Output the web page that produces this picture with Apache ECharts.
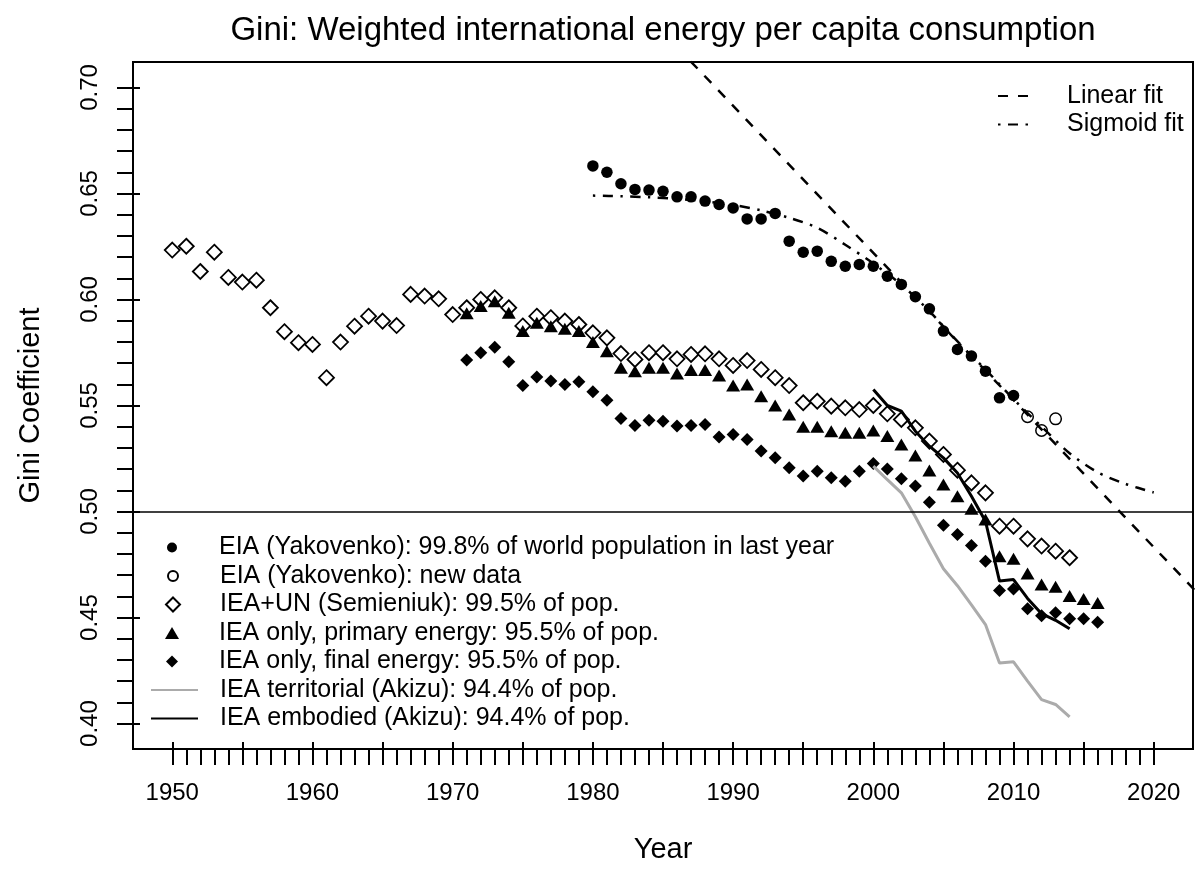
<!DOCTYPE html>
<html><head><meta charset="utf-8">
<script src="https://cdn.jsdelivr.net/npm/echarts@6/dist/echarts.min.js"></script>
<style>html,body{margin:0;padding:0;background:#fff}#c{width:1195px;height:870px}</style>
</head><body><div id="c"></div>
<script>
// ---------- data ----------
const eiaYears = [1980,1981,1982,1983,1984,1985,1986,1987,1988,1989,1990,1991,1992,1993,1994,1995,1996,1997,1998,1999,2000,2001,2002,2003,2004,2005,2006,2007,2008,2009,2010];
const eiaGini  = [0.663,0.660,0.6546,0.6519,0.6516,0.6510,0.6484,0.6484,0.6464,0.6448,0.6432,0.6380,0.6380,0.6406,0.6275,0.6223,0.6228,0.6180,0.6157,0.6165,0.6157,0.6110,0.6071,0.6013,0.5956,0.5851,0.5764,0.5733,0.5662,0.5536,0.5547];

const eiaNewYears = [2011,2012,2013];
const eiaNewGini  = [0.5447,0.5382,0.5437];

const ieaUnYears = [1950,1951,1952,1953,1954,1955,1956,1957,1958,1959,1960,1961,1962,1963,1964,1965,1966,1967,1968,1969,1970,1971,1972,1973,1974,1975,1976,1977,1978,1979,1980,1981,1982,1983,1984,1985,1986,1987,1988,1989,1990,1991,1992,1993,1994,1995,1996,1997,1998,1999,2000,2001,2002,2003,2004,2005,2006,2007,2008,2009,2010,2011,2012,2013,2014];
const ieaUnGini  = [0.6233,0.6251,0.6132,0.6223,0.6104,0.6082,0.6091,0.5961,0.5848,0.5796,0.5788,0.5631,0.5799,0.5874,0.5921,0.5898,0.5877,0.6024,0.6016,0.6003,0.5929,0.5961,0.6000,0.6008,0.5961,0.5875,0.5921,0.5914,0.5898,0.5882,0.5843,0.5819,0.5745,0.5717,0.5749,0.5749,0.5720,0.5741,0.5744,0.5720,0.5689,0.5712,0.5670,0.5631,0.5594,0.5513,0.5520,0.5497,0.5489,0.5481,0.5500,0.5461,0.5434,0.5395,0.5332,0.5269,0.5195,0.5135,0.5088,0.4931,0.4931,0.4871,0.4837,0.4813,0.4782];

const ieaYears = [1971,1972,1973,1974,1975,1976,1977,1978,1979,1980,1981,1982,1983,1984,1985,1986,1987,1988,1989,1990,1991,1992,1993,1994,1995,1996,1997,1998,1999,2000,2001,2002,2003,2004,2005,2006,2007,2008,2009,2010,2011,2012,2013,2014,2015,2016];
const primaryGini = [0.5935,0.5969,0.5992,0.5937,0.5851,0.5890,0.5874,0.5862,0.5851,0.5799,0.5756,0.5678,0.5662,0.5678,0.5678,0.5651,0.5667,0.5667,0.5642,0.5594,0.5599,0.5544,0.5500,0.5458,0.5400,0.5400,0.5379,0.5371,0.5371,0.5382,0.5356,0.5316,0.5264,0.5193,0.5127,0.5072,0.5013,0.4962,0.4789,0.4777,0.4708,0.4656,0.4645,0.4601,0.4588,0.4569];
const finalGini   = [0.5714,0.5749,0.5775,0.5706,0.5594,0.5634,0.5615,0.5599,0.5612,0.5565,0.5525,0.5439,0.5406,0.5431,0.5426,0.5403,0.5406,0.5410,0.5352,0.5363,0.5340,0.5285,0.5253,0.5206,0.5167,0.5190,0.5159,0.5143,0.5190,0.5226,0.5201,0.5154,0.5120,0.5044,0.4935,0.4892,0.4840,0.4766,0.4627,0.4635,0.4541,0.4509,0.4522,0.4494,0.4494,0.4478];

const akizuYears = [2000,2001,2002,2003,2004,2005,2006,2007,2008,2009,2010,2011,2012,2013,2014];
const territorialGini = [0.5214,0.5150,0.5088,0.4975,0.4850,0.4730,0.4650,0.4560,0.4467,0.4286,0.4291,0.4200,0.4113,0.4090,0.4032];
const embodiedGini    = [0.5575,0.5500,0.5473,0.5379,0.5308,0.5253,0.5182,0.5072,0.4954,0.4672,0.4679,0.4590,0.4518,0.4487,0.4447];

const linearFitYears = [1985,2025];
const linearFitGini  = [0.726,0.4485];

const sigmoidYears = [1980,1982,1984,1986,1988,1990,1992,1994,1996,1998,2000,2002,2004,2006,2008,2010,2012,2014,2016,2018,2020];
const sigmoidGini  = [0.6490,0.6487,0.6482,0.6475,0.6463,0.6446,0.6420,0.6385,0.6338,0.6258,0.6170,0.6070,0.5945,0.5800,0.5670,0.5530,0.5400,0.5275,0.5185,0.5130,0.5090];

const refLevel = 0.5;

const xLabelValues = [1950,1960,1970,1980,1990,2000,2010,2020];
const xMajorTicks  = [1950,1955,1960,1965,1970,1975,1980,1985,1990,1995,2000,2005,2010,2015,2020];
const yLabelValues = [0.40,0.45,0.50,0.55,0.60,0.65,0.70];

const names = {
  eia: 'EIA (Yakovenko): 99.8% of world population in last year',
  eiaNew: 'EIA (Yakovenko): new data',
  ieaUn: 'IEA+UN (Semieniuk): 99.5% of pop.',
  primary: 'IEA only, primary energy: 95.5% of pop.',
  final: 'IEA only, final energy: 95.5% of pop.',
  territorial: 'IEA territorial (Akizu): 94.4% of pop.',
  embodied: 'IEA embodied (Akizu): 94.4% of pop.',
  linear: 'Linear fit',
  sigmoid: 'Sigmoid fit'
};

// ---------- helpers ----------
const FONT = "'Liberation Sans', Arial, Helvetica, sans-serif";
const LEG_FS = 25;
const pairs = (xs, ys) => xs.map((x, i) => [x, ys[i]]);
const xMinor = []; for (let y = 1950; y <= 2020; y++) xMinor.push(y);
const yMinor = []; for (let v = 40; v <= 70; v++) yMinor.push(v / 100);

const X_MIN = 1947.2, X_MAX = 2022.8, Y_MIN = 0.388, Y_MAX = 0.712;

// symbol legend: icon centred at x=172, text starting at x=219
function symLegend(name, rowCenter, w, h, icon) {
  const left = 172 - w / 2;
  return {
    data: [icon ? {name: name, icon: icon} : name],
    left: left, top: rowCenter - 12.5, orient: 'vertical', padding: 0,
    itemWidth: w, itemHeight: h, selectedMode: false,
    textStyle: {fontSize: LEG_FS, lineHeight: 25, color: '#000', fontFamily: FONT,
                padding: [0, 0, 0, 219 - (left + w + 5)]}
  };
}
function lineLegend(name, left, rowCenter, w, textX) {
  return {
    data: [name], left: left, top: rowCenter - 12.5, orient: 'vertical', padding: 0,
    itemWidth: w, itemHeight: 14, selectedMode: false,
    itemStyle: {opacity: 0},
    textStyle: {fontSize: LEG_FS, lineHeight: 25, color: '#000', fontFamily: FONT,
                padding: [0, 0, 0, textX - (left + w + 5)]}
  };
}
const rows = [547.5, 576, 604.5, 633, 661.5, 690, 718.5];

const chart = echarts.init(document.getElementById('c'), null, {renderer: 'canvas'});
chart.setOption({
  animation: false,
  backgroundColor: '#fff',
  title: {
    text: 'Gini: Weighted international energy per capita consumption',
    left: 663, top: 14, textAlign: 'center', textVerticalAlign: 'top', padding: 0,
    textStyle: {fontSize: 33, fontWeight: 'normal', color: '#000', fontFamily: FONT}
  },
  grid: {left: 133, right: 2, top: 62, bottom: 121, show: true, borderColor: '#000', borderWidth: 2, backgroundColor: 'transparent'},
  xAxis: [
    {
      type: 'value', min: X_MIN, max: X_MAX, position: 'bottom',
      axisLine: {show: false, onZero: false}, splitLine: {show: false},
      axisTick: {show: true, customValues: xMinor, length: 16, inside: false, lineStyle: {color: '#000', width: 2}},
      axisLabel: {customValues: xLabelValues, fontSize: 24, color: '#000', margin: 32, fontFamily: FONT,
                  formatter: v => String(Math.round(v))},
      name: 'Year', nameLocation: 'middle', nameGap: 86,
      nameTextStyle: {fontSize: 29, color: '#000', fontFamily: FONT}
    },
    {
      type: 'value', min: X_MIN, max: X_MAX, position: 'bottom',
      axisLine: {show: false, onZero: false}, splitLine: {show: false},
      axisTick: {show: true, customValues: xMajorTicks, length: 7, inside: true, lineStyle: {color: '#000', width: 2}},
      axisLabel: {show: false}
    }
  ],
  yAxis: [
    {
      type: 'value', min: Y_MIN, max: Y_MAX, position: 'left',
      axisLine: {show: false, onZero: false}, splitLine: {show: false},
      axisTick: {show: true, customValues: yMinor, length: 16, inside: false, lineStyle: {color: '#000', width: 2}},
      axisLabel: {customValues: yLabelValues, rotate: 90, fontSize: 24, color: '#000', margin: 31, fontFamily: FONT,
                  formatter: v => v.toFixed(2)},
      name: 'Gini Coefficient', nameLocation: 'middle', nameRotate: 90, nameGap: 88,
      nameTextStyle: {fontSize: 29, color: '#000', fontFamily: FONT}
    },
    {
      type: 'value', min: Y_MIN, max: Y_MAX, position: 'left',
      axisLine: {show: false, onZero: false}, splitLine: {show: false},
      axisTick: {show: true, customValues: yLabelValues, length: 7, inside: true, lineStyle: {color: '#000', width: 2}},
      axisLabel: {show: false}
    }
  ],
  legend: [
    symLegend(names.eia, rows[0], 10, 10),
    symLegend(names.eiaNew, rows[1], 10, 10),
    symLegend(names.ieaUn, rows[2], 14, 14),
    symLegend(names.primary, rows[3], 14, 12, 'path://M7,0L14,12L0,12Z'),
    symLegend(names.final, rows[4], 12, 12),
    lineLegend(names.territorial, 150, rows[5], 47, 219),
    lineLegend(names.embodied, 150, rows[6], 47, 219),
    lineLegend(names.linear, 997, 96, 36, 1066),
    lineLegend(names.sigmoid, 997, 124.6, 36, 1066)
  ],
  series: [
    {
      name: names.ieaUn, type: 'scatter', data: pairs(ieaUnYears, ieaUnGini),
      symbol: 'diamond', symbolSize: 15,
      itemStyle: {color: '#fff', borderColor: '#000', borderWidth: 1.8, opacity: 1}
    },
    {
      name: names.primary, type: 'scatter', data: pairs(ieaYears, primaryGini),
      symbol: 'triangle', symbolSize: [14, 12],
      itemStyle: {color: '#000', opacity: 1}
    },
    {
      name: names.final, type: 'scatter', data: pairs(ieaYears, finalGini),
      symbol: 'diamond', symbolSize: 13,
      itemStyle: {color: '#000', opacity: 1}
    },
    {
      name: names.eia, type: 'scatter', data: pairs(eiaYears, eiaGini),
      symbol: 'circle', symbolSize: 11.5,
      itemStyle: {color: '#000', opacity: 1}
    },
    {
      name: names.eiaNew, type: 'scatter', data: pairs(eiaNewYears, eiaNewGini),
      symbol: 'circle', symbolSize: 11.5,
      itemStyle: {color: '#fff', borderColor: '#000', borderWidth: 1.5, opacity: 1}
    },
    {
      name: names.territorial, type: 'line', data: pairs(akizuYears, territorialGini),
      symbol: 'none', lineStyle: {color: '#ababab', width: 3}, itemStyle: {color: '#ababab'}
    },
    {
      name: names.embodied, type: 'line', data: pairs(akizuYears, embodiedGini),
      symbol: 'none', lineStyle: {color: '#000', width: 3}, itemStyle: {color: '#000'}
    },
    {
      name: names.linear, type: 'line', data: pairs(linearFitYears, linearFitGini),
      symbol: 'none', clip: true,
      lineStyle: {color: '#000', width: 2.5, type: [10, 10]}, itemStyle: {color: '#000'},
      markLine: {
        silent: true, symbol: ['none', 'none'], label: {show: false},
        lineStyle: {color: '#000', width: 1.5, type: 'solid'},
        data: [{yAxis: refLevel}]
      }
    },
    {
      name: names.sigmoid, type: 'line', data: pairs(sigmoidYears, sigmoidGini),
      symbol: 'none', smooth: 0.3,
      lineStyle: {color: '#000', width: 2.5, type: [2.5, 7.5, 10, 7.5]}, itemStyle: {color: '#000'}
    }
  ]
});
</script>
</body></html>
